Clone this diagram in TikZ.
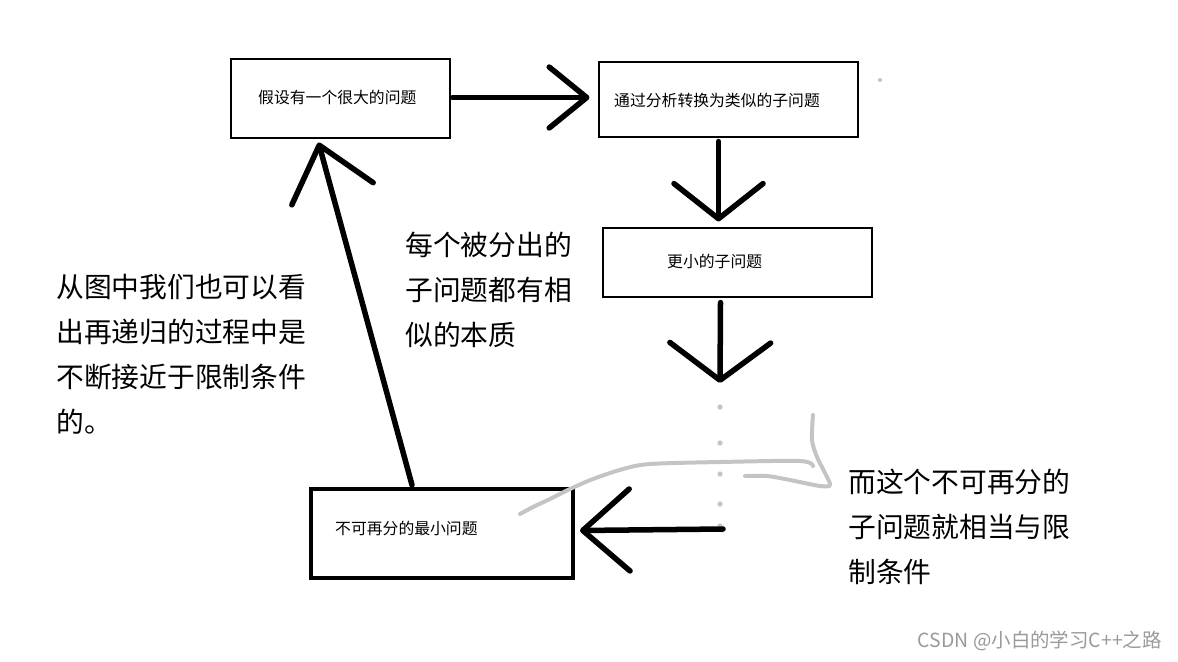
\documentclass[tikz,border=0pt]{standalone}
\usepackage{fontspec}
\setmainfont{Noto Sans CJK SC}
\usetikzlibrary{arrows.meta,positioning,calc,fit}
\definecolor{penGray}{HTML}{C4C4C4}
\definecolor{markGray}{HTML}{9A9A9A}

\begin{document}
\begin{tikzpicture}[x=0.03cm,y=-0.03cm,
  box/.style={draw, line width=0.9pt, inner sep=0pt},
  bigbox/.style={draw, line width=3.4pt, inner sep=0pt},
  boxtext/.style={font=\fontsize{13.5}{16}\selectfont, inner sep=0pt, anchor=west},
  note/.style={font=\fontsize{23.7}{38.4}\selectfont, align=left, inner sep=0pt, anchor=north west},
  bigarrow/.style={line width=4.7pt, line cap=round},
  pen/.style={penGray, line width=3.4pt, line cap=round, line join=round}]
\fill[white] (0,0) rectangle (1178,661);
\useasboundingbox (0,0) rectangle (1178,661);

% boxes
\node[box, fit={(231,59) (450,138)}] (big) {};
\node[box, fit={(599,62) (858,137)}] (split) {};
\node[box, fit={(603,228) (872,297)}] (smaller) {};
\node[bigbox, fit={(311,489) (573,578)}] (smallest) {};
\node[boxtext] (bigtxt) at (258,97) {假设有一个很大的问题};
\node[boxtext] (splittxt) at (614,100) {通过分析转换为类似的子问题};
\node[boxtext] (smallertxt) at (667,261) {更小的子问题};
\node[boxtext] (smallesttxt) at (335,528) {不可再分的最小问题};

% dotted continuation
\coordinate (dotsTop) at (720,383);
\coordinate (dotsEnd) at (723,529);
\foreach \y in {407,443,474,504,526}
  \fill[penGray] (720,\y) circle (2.6);

% arrows
\draw[bigarrow, -{Straight Barb[length=32pt,width=52pt,round]}]
  ($(big.east)+(2,-1)$) -- ($(split.west)+(-9,-2)$);
\draw[bigarrow, -{Straight Barb[length=30pt,width=76pt,round]}]
  ($(split.south)+(-10,4)$) -- ($(smaller.north)+(-19,-6)$);
\draw[bigarrow, -{Straight Barb[length=32pt,width=86pt,round]}]
  ($(smaller.south)+(-17,5)$) -- (dotsTop);
\draw[bigarrow, -{Straight Barb[length=40pt,width=70pt,round]}]
  (dotsEnd) -- ($(smallest.east)+(5,-3)$);
\draw[bigarrow, -{Straight Barb[length=43pt,width=72pt,round]}]
  ($(smallest.north)+(-30,-2)$) -- ($(big.south)+(-22,4)$);

% hand-drawn gray pointer
\draw[pen] plot[smooth] coordinates {(520,514) (533,507) (550,499) (570,489) (593,479)
  (623,469) (650,464) (720,462) (800,461) (813,466)};
\draw[pen] plot[smooth] coordinates {(813,415) (812,440) (817,457) (825,473) (830,485)
  (820,486) (790,480) (767,476) (745,476)};
\fill[penGray] (880,80) circle (2);

% notes
\node[note] (leftnote) at (56,274) {从图中我们也可以看\\出再递归的过程中是\\不断接近于限制条件\\的。};
\node[note] (midnote) at (405,232) {每个被分出的\\子问题都有相\\似的本质};
\node[note] (rightnote) at (848,469) {而这个不可再分的\\子问题就相当与限\\制条件};

\node[font=\fontsize{16.6}{18}\selectfont, text=markGray, inner sep=0pt, anchor=east] (mark) at (1162,641) {CSDN @小白的学习C++之路};
\end{tikzpicture}
\end{document}
